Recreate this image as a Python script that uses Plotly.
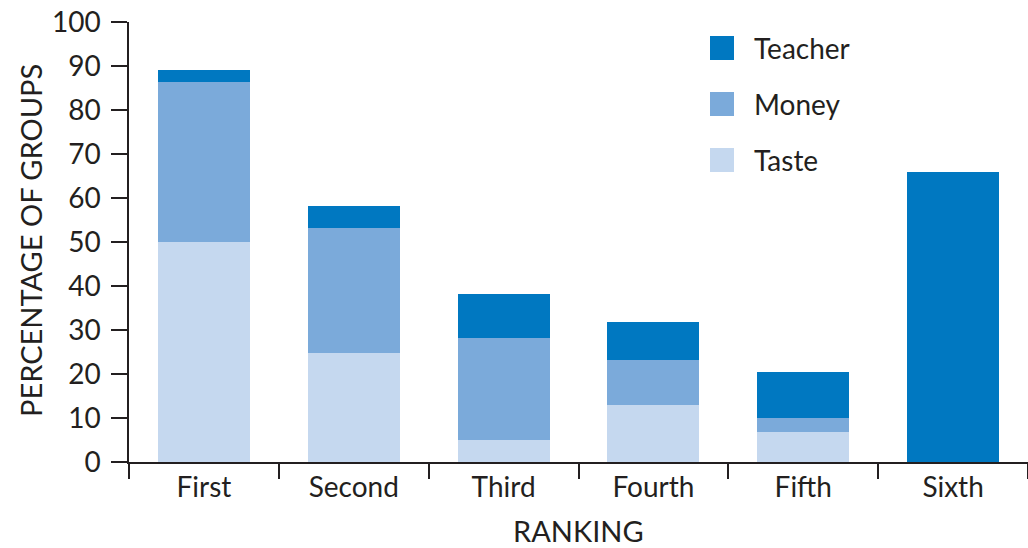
import plotly.graph_objects as go

categories = ["First", "Second", "Third", "Fourth", "Fifth", "Sixth"]
taste = [50, 24.8, 5, 12.9, 6.8, 0]
money = [36.3, 28.3, 23.1, 10.2, 3.1, 0]
teacher = [2.8, 5.1, 10, 8.7, 10.5, 65.9]
y_ticks = [0, 10, 20, 30, 40, 50, 60, 70, 80, 90, 100]

series = [("Taste", taste, "#C5D8EF"), ("Money", money, "#7BAADA"), ("Teacher", teacher, "#0078C1")]

W, H = 1028, 548
L, R, T = 129, 0, 22
B = H - 462
pw, ph = W - L - R, H - T - B
FONT = "Lato"
TXT = "#231F20"
FS = 28


def px(sx):
    return (sx - L) / pw


def py(sy):
    return (H - B - sy) / ph


fig = go.Figure()
for name, vals, col in series:
    fig.add_trace(go.Bar(x=categories, y=vals, name=name, marker=dict(color=col, line=dict(width=0)),
                         width=0.615, showlegend=False))

# manual legend (Teacher, Money, Taste from top)
legend_items = list(reversed(series))
for i, (name, vals, col) in enumerate(legend_items):
    cy = 48 + i * 56
    fig.add_shape(type="rect", xref="paper", yref="paper",
                  x0=px(710), x1=px(734), y0=py(cy + 12), y1=py(cy - 12),
                  fillcolor=col, line=dict(width=0))
    fig.add_annotation(x=px(752), y=py(cy), xref="paper", yref="paper",
                       text=name, showarrow=False, xanchor="left", yanchor="middle",
                       font=dict(family=FONT, size=FS, color=TXT))

# axis titles
fig.add_annotation(x=px(578), y=py(548), xref="paper", yref="paper", text="RANKING",
                   showarrow=False, xanchor="center", yanchor="bottom", yshift=-1, borderpad=0,
                   font=dict(family=FONT, size=29, color=TXT))
fig.add_annotation(x=px(31), y=py(241), xref="paper", yref="paper", text="PERCENTAGE OF GROUPS",
                   showarrow=False, xanchor="center", yanchor="middle", textangle=-90,
                   font=dict(family=FONT, size=29, color=TXT))

fig.update_layout(
    barmode="stack",
    width=W, height=H,
    margin=dict(l=L, r=R, t=T, b=B),
    plot_bgcolor="white", paper_bgcolor="white",
    bargap=0.385,
    font=dict(family=FONT, size=FS, color=TXT),
    xaxis=dict(
        showline=True, linecolor="#231F20", linewidth=1.5,
        ticks="outside", tickson="boundaries", ticklen=15, tickwidth=1.5, tickcolor="#231F20",
        tickfont=dict(family=FONT, size=FS, color=TXT),
        showgrid=False, ticklabeloverflow="allow", automargin=False,
    ),
    yaxis=dict(
        range=[0, 100], tickvals=y_ticks, showline=True, linecolor="#231F20", linewidth=1.5,
        ticks="outside", ticklen=16, tickwidth=1.5, tickcolor="#231F20",
        tickfont=dict(family=FONT, size=FS, color=TXT),
        showgrid=False, zeroline=False, ticklabelstandoff=5, ticklabeloverflow="allow",
        automargin=False,
    ),
)

fig.write_html("out.html", config={"displayModeBar": False},
               post_script="document.body.style.margin='0';document.body.style.overflow='hidden';")
